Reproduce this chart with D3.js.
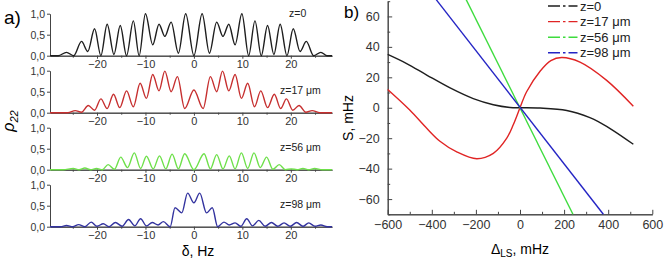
<!DOCTYPE html>
<html>
<head>
<meta charset="utf-8">
<script src="https://cdn.jsdelivr.net/npm/d3@7"></script>
<style>
  body { margin: 0; background: #fff; }
  svg { display: block; font-family: "Liberation Sans", Arial, sans-serif; }
  .axis path, .axis line { stroke: #444; }
  .axis text { fill: #333; font-family: "Liberation Sans", Arial, sans-serif; }
</style>
</head>
<body>
<div id="container"></div>
<script>
// ---- panel a) : rho22 vs detuning (Hz) as [delta, rho] ----
const rhoZ0 = [[-29.7,0],[-28,0],[-26.3,0.08],[-24.8,0],[-23.2,0.34],[-21.9,0.1],[-20.5,0.64],[-19.2,0],[-17.9,0.75],[-16.5,0.03],[-15.2,0.72],[-13.9,0],[-12.5,0.83],[-11.3,0],[-10,1],[-8.5,0.26],[-7.2,0.75],[-6,0.46],[-4.7,0.8],[-3.2,0.06],[-1.7,1],[0,0],[1.7,1],[3.2,0.06],[4.7,0.8],[6,0.46],[7.2,0.75],[8.5,0.26],[9.9,1],[11.3,0],[12.6,0.83],[13.9,0],[15.2,0.72],[16.5,0.03],[17.8,0.75],[19.2,0],[20.5,0.64],[21.9,0.1],[23.2,0.34],[24.7,0],[26.2,0.08],[27.5,0],[28.5,0]];
const rhoZ17 = [[-29.7,0],[-26,0],[-24.5,0.05],[-23.2,0.01],[-21.8,0.17],[-20.5,0.06],[-19.2,0.33],[-17.9,0.1],[-16.6,0.44],[-15.3,0.12],[-13.9,0.52],[-12.5,0.14],[-11.1,0.7],[-9.8,0.34],[-8.5,0.91],[-7.2,0.52],[-6,0.99],[-4.7,0.5],[-3.4,0.86],[-1.9,0.1],[0,0.54],[1.9,0.1],[3.4,0.86],[4.7,0.5],[5.9,0.99],[7.2,0.52],[8.5,0.91],[9.8,0.34],[11.1,0.7],[12.5,0.14],[13.8,0.52],[15.2,0.12],[16.6,0.44],[17.9,0.1],[19.1,0.33],[20.4,0.06],[21.7,0.17],[23.1,0.01],[24.4,0.05],[26,0],[28.5,0]];
const rhoZ56 = [[-29.7,0],[-27,0],[-24.9,0.03],[-23.7,0],[-22.5,0.04],[-21.3,0],[-20.1,0.03],[-18.9,0],[-17.7,0.12],[-16.4,0.01],[-15.1,0.3],[-13.7,0.05],[-12.3,0.4],[-11,0.03],[-9.8,0.32],[-8.4,0.02],[-7.1,0.33],[-5.8,0.02],[-4.5,0.37],[-3.2,0.02],[-1.9,0.38],[0,0],[2.1,0.38],[3.4,0.02],[4.7,0.36],[6,0.02],[7.3,0.33],[8.5,0.02],[9.8,0.4],[11.1,0.03],[12.4,0.4],[13.7,0.05],[15,0.3],[16.3,0.01],[17.6,0.12],[18.9,0],[20.1,0.02],[21.3,0],[22.5,0.03],[23.7,0],[24.9,0.03],[26.5,0],[28.5,0]];
const rhoZ98 = [[-29.7,0],[-27.5,0],[-26.3,0.03],[-25,0],[-23.8,0.05],[-22.5,0],[-21.2,0.11],[-20,0.01],[-18.7,0.07],[-17.5,0],[-16.2,0.1],[-14.8,0.01],[-13.5,0.17],[-12.2,0.02],[-11,0.19],[-9.8,0.02],[-8.6,0.1],[-7.4,0.04],[-6.3,0.12],[-4.9,0],[-3.9,0.45],[-2.5,0.33],[-1.3,0.8],[0,0.57],[1.2,0.8],[2.6,0.33],[3.8,0.45],[4.9,0],[6.2,0.11],[7.3,0.04],[8.5,0.09],[9.7,0.01],[10.9,0.19],[12.1,0.02],[13.4,0.15],[14.7,0.01],[16,0.1],[17.3,0.01],[18.6,0.09],[19.9,0.01],[21.2,0.1],[22.5,0.01],[23.7,0.09],[25,0.01],[26.2,0.04],[27.5,0],[28.5,0]];

const panelLabels = ["z=0", "z=17 \u03bcm", "z=56 \u03bcm", "z=98 \u03bcm"];
const panelColors = ["#1e1e1e", "#c62f2f", "#6ee04a", "#33339f"];
const deltaTicks = [-20, -10, 0, 10, 20];
const rhoTicks = [0, 0.5, 1];

// ---- panel b) : S (mHz) vs Delta_LS (mHz), [delta, S] ----
const sZ0  = [[-600,35],[-514,29],[-423,21.5],[-317,13],[-212,6],[-121,2],[-45,0.2],[0,0],[91,-0.2],[212,-1.8],[317,-6.5],[363,-9.8],[423,-15],[514,-24]];
const sZ17 = [[-600,12],[-500,-1.5],[-423,-13.5],[-363,-22],[-287,-29],[-196,-33.5],[-121,-30],[-60,-20],[-30,-11],[0,0],[30,10.5],[91,24],[140,31],[189,33],[272,30],[393,18],[514,1]];
const sZ56 = [[-244,71],[240,-70]];
const sZ98 = [[-380,71],[378,-70]];
const legendLabels = ["z=0", "z=17 \u03bcm", "z=56 \u03bcm", "z=98 \u03bcm"];
const bColors = ["#1e1e1e", "#e02424", "#3ddc3d", "#2424c4"];
const lsTicks = [-600, -400, -200, 0, 200, 400, 600];
const sTicks = [-60, -40, -20, 0, 20, 40, 60];

const width = 664, height = 259;
const svg = d3.create("svg").attr("width", width).attr("height", height);

// ===== panel a =====
const x = d3.scaleLinear().domain([-29.7, 28.5]).range([50, 332]);
const series = [rhoZ0, rhoZ17, rhoZ56, rhoZ98];

series.forEach((data, i) => {
    const top = 13.7 + 57 * i;
    const base = top + 42;
    const y = d3.scaleLinear().domain([0, 1]).range([base, top]);
    const g = svg.append("g");

    g.append("g").attr("class", "axis")
        .attr("transform", `translate(0,${base})`)
        .call(d3.axisBottom(x).tickValues([-25, -15, -5, 5, 15, 25]).tickSize(2).tickSizeOuter(0).tickFormat(""));
    g.append("g").attr("class", "axis")
        .attr("transform", `translate(0,${base})`)
        .call(d3.axisBottom(x).tickValues(deltaTicks).tickSize(3).tickPadding(2).tickSizeOuter(0))
        .selectAll("text").attr("font-size", 11);
    g.append("g").attr("class", "axis")
        .attr("transform", `translate(50,0)`)
        .call(d3.axisLeft(y).tickValues(rhoTicks).tickSize(3).tickPadding(2).tickSizeOuter(0)
            .tickFormat(d => d3.format(".1f")(d).replace(".", ",")))
        .selectAll("text").attr("font-size", 10.5);

    g.append("path")
        .datum(data)
        .attr("fill", "none")
        .attr("stroke", panelColors[i])
        .attr("stroke-width", 1.4)
        .attr("d", d3.line().x(d => x(d[0])).y(d => y(d[1])).curve(d3.curveMonotoneX));

    g.append("text")
        .attr("x", i === 0 ? 289 : 280)
        .attr("y", i === 0 ? top + 3.5 : base - 19)
        .attr("font-size", 10.5)
        .attr("fill", "#222")
        .text(panelLabels[i]);
});

svg.append("text").attr("x", 4).attr("y", 24).attr("font-size", 19).text("a)");

const rhoLab = svg.append("text")
    .attr("transform", "translate(14,121) rotate(-90)")
    .attr("text-anchor", "middle")
    .attr("font-size", 16)
    .attr("font-style", "italic");
rhoLab.append("tspan").text("\u03c1");
rhoLab.append("tspan").attr("font-size", 11).attr("dy", 4).text("22");

svg.append("text").attr("x", 198).attr("y", 256).attr("text-anchor", "middle")
    .attr("font-size", 14).text("\u03b4, Hz");

// ===== panel b =====
const xb = d3.scaleLinear().domain([-600, 600]).range([387.7, 652.3]);
const yb = d3.scaleLinear().domain([-70, 70]).range([214.3, 1.2]);

svg.append("g").attr("class", "axis")
    .attr("transform", "translate(0,214.3)")
    .call(d3.axisBottom(xb).tickValues(d3.range(-500, 600, 200)).tickSize(-2.5).tickSizeOuter(0).tickFormat(""));
svg.append("g").attr("class", "axis")
    .attr("transform", "translate(0,214.3)")
    .call(d3.axisBottom(xb).tickValues(lsTicks).tickSize(-4.5).tickPadding(6).tickSizeOuter(0))
    .selectAll("text").attr("font-size", 12.5);
svg.append("g").attr("class", "axis")
    .attr("transform", "translate(387.7,0)")
    .call(d3.axisLeft(yb).tickValues(d3.range(-70, 71, 20)).tickSize(-2.5).tickSizeOuter(0).tickFormat(""));
svg.append("g").attr("class", "axis")
    .attr("transform", "translate(387.7,0)")
    .call(d3.axisLeft(yb).tickValues(sTicks).tickSize(-4.5).tickPadding(8).tickSizeOuter(0))
    .selectAll("text").attr("font-size", 12.5);

const lineB = d3.line().x(d => xb(d[0])).y(d => yb(d[1])).curve(d3.curveCatmullRom.alpha(0.5));
[sZ0, sZ17, sZ56, sZ98].forEach((data, i) => {
    svg.append("path")
        .datum(data)
        .attr("fill", "none")
        .attr("stroke", bColors[i])
        .attr("stroke-width", 1.4)
        .attr("d", lineB);
});

const legend = svg.append("g").attr("transform", "translate(548,0)");
legendLabels.forEach((lab, i) => {
    const base = 10.5 + 15.6 * i;
    legend.append("line")
        .attr("x1", 0).attr("x2", 30)
        .attr("y1", base - 4.5).attr("y2", base - 4.5)
        .attr("stroke", bColors[i]).attr("stroke-width", 1.4)
        .attr("stroke-dasharray", "12,3,2.5,3,9");
    legend.append("text").attr("x", 32).attr("y", base)
        .attr("font-size", 13).attr("fill", "#222").text(lab);
});

svg.append("text").attr("x", 344).attr("y", 18).attr("font-size", 17).text("b)");

svg.append("text")
    .attr("transform", "translate(353,118) rotate(-90)")
    .attr("text-anchor", "middle")
    .attr("font-size", 14)
    .text("S, mHz");

const dLab = svg.append("text").attr("x", 520).attr("y", 254)
    .attr("text-anchor", "middle").attr("font-size", 14);
dLab.append("tspan").text("\u0394");
dLab.append("tspan").attr("font-size", 10).attr("dy", 3).text("LS");
dLab.append("tspan").attr("dy", -3).text(", mHz");

document.querySelector("#container").appendChild(svg.node());
</script>
</body>
</html>
